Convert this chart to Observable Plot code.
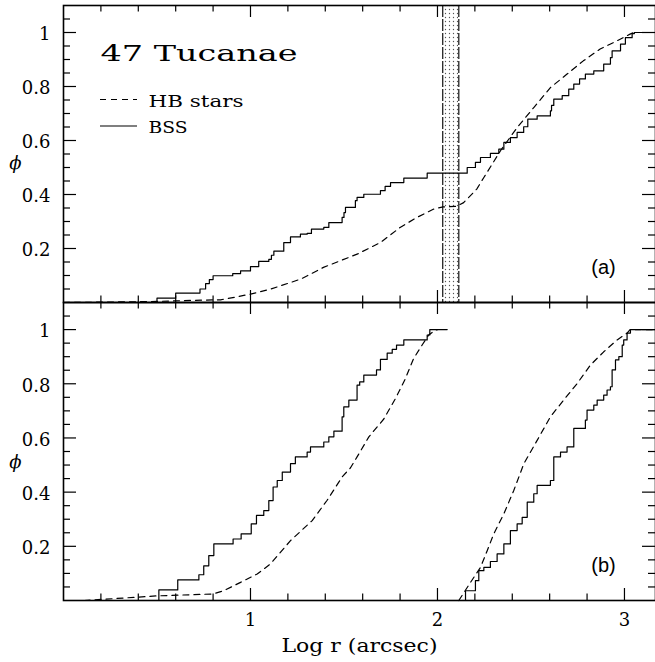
<!DOCTYPE html>
<html><head><meta charset="utf-8">
<script src="https://cdn.jsdelivr.net/npm/d3@7"></script>
<script src="https://cdn.jsdelivr.net/npm/@observablehq/plot@0.6"></script>
<style>
body{margin:0;background:#fff;}
#chart{width:655px;height:662px;position:relative;overflow:hidden;background:#fff;}
#chart svg{display:block;}
</style></head><body><div id="chart"></div>
<script>
// ---------- data (Log r [arcsec], cumulative fraction phi) ----------
// Panel (a)
const bssA = [[0,0],[0.50,0.016],[0.60,0.035],[0.73,0.05],[0.76,0.07],[0.78,0.085],[0.80,0.099],[0.905,0.107],[0.947,0.117],[1.0,0.133],[1.044,0.152],[1.098,0.16],[1.112,0.175],[1.125,0.19],[1.178,0.222],[1.214,0.243],[1.267,0.253],[1.303,0.256],[1.326,0.272],[1.392,0.278],[1.419,0.296],[1.49,0.315],[1.50,0.333],[1.508,0.352],[1.561,0.377],[1.57,0.389],[1.606,0.401],[1.695,0.414],[1.72,0.43],[1.749,0.444],[1.82,0.461],[1.945,0.479],[2.159,0.5],[2.203,0.519],[2.23,0.537],[2.283,0.552],[2.328,0.568],[2.355,0.593],[2.39,0.611],[2.426,0.63],[2.461,0.651],[2.483,0.679],[2.533,0.691],[2.604,0.71],[2.61,0.73],[2.622,0.753],[2.667,0.766],[2.702,0.79],[2.729,0.809],[2.76,0.828],[2.791,0.846],[2.836,0.858],[2.889,0.883],[2.925,0.907],[2.934,0.932],[2.979,0.957],[3.005,0.981],[3.041,0.996],[3.053,1.0],[3.166,1.0]];
const hbA = [[0,0],[0.3,0.002],[0.5,0.004],[0.7,0.008],[0.84,0.01],[0.92,0.02],[1.0,0.031],[1.11,0.05],[1.27,0.087],[1.39,0.13],[1.57,0.179],[1.695,0.222],[1.80,0.278],[1.89,0.315],[1.98,0.346],[2.03,0.354],[2.10,0.356],[2.14,0.37],[2.21,0.42],[2.248,0.463],[2.337,0.562],[2.426,0.648],[2.515,0.722],[2.604,0.796],[2.693,0.846],[2.78,0.895],[2.87,0.939],[2.96,0.969],[3.03,0.994],[3.05,1.0],[3.166,1.0]];
// Panel (b): inner and outer samples
const bssBInner = [[0,0],[0.51,0.039],[0.611,0.076],[0.724,0.095],[0.75,0.128],[0.777,0.166],[0.804,0.209],[0.907,0.227],[0.95,0.246],[1.004,0.283],[1.032,0.314],[1.071,0.332],[1.098,0.369],[1.121,0.419],[1.143,0.443],[1.17,0.474],[1.214,0.505],[1.24,0.53],[1.303,0.548],[1.321,0.567],[1.392,0.585],[1.419,0.604],[1.446,0.625],[1.49,0.678],[1.499,0.715],[1.526,0.74],[1.57,0.795],[1.584,0.807],[1.606,0.832],[1.674,0.851],[1.695,0.89],[1.731,0.913],[1.758,0.927],[1.781,0.943],[1.82,0.962],[1.945,0.98],[1.959,1.0],[2.052,1.0]];
const hbBInner = [[0.11,0],[0.5,0.017],[0.80,0.024],[0.857,0.036],[0.947,0.067],[1.036,0.098],[1.107,0.135],[1.16,0.178],[1.214,0.221],[1.33,0.295],[1.41,0.37],[1.49,0.456],[1.535,0.49],[1.57,0.53],[1.633,0.604],[1.713,0.67],[1.775,0.745],[1.825,0.814],[1.873,0.894],[1.918,0.943],[1.953,0.98],[1.985,0.996],[2.0,1.0]];
const bssBOuter = [[2.14,0],[2.15,0.036],[2.203,0.073],[2.221,0.11],[2.248,0.122],[2.283,0.144],[2.319,0.172],[2.355,0.209],[2.39,0.258],[2.426,0.283],[2.453,0.307],[2.48,0.363],[2.515,0.394],[2.533,0.425],[2.604,0.443],[2.622,0.53],[2.658,0.548],[2.693,0.567],[2.729,0.635],[2.791,0.666],[2.80,0.703],[2.836,0.721],[2.854,0.74],[2.889,0.758],[2.907,0.777],[2.925,0.789],[2.934,0.851],[2.952,0.888],[2.97,0.9],[2.988,0.943],[2.996,0.962],[3.014,0.987],[3.032,1.0],[3.166,1.0]];
const hbBOuter = [[2.114,0],[2.159,0.048],[2.194,0.085],[2.23,0.122],[2.266,0.184],[2.301,0.246],[2.355,0.32],[2.408,0.406],[2.462,0.505],[2.533,0.591],[2.604,0.678],[2.675,0.74],[2.747,0.801],[2.818,0.869],[2.889,0.918],[2.961,0.962],[3.014,0.987],[3.03,1.0],[3.166,1.0]];
// shaded band in panel (a)
const bandEdges = [2.028, 2.114];
// axes
const xDomain = [0, 3.166];
const yDomain = [0, 1.1];
const xMajorTicks = [1, 2, 3];
const xTickLabels = ["1", "2", "3"];
const xMinorTicks = [0.2,0.4,0.6,0.8,1.2,1.4,1.6,1.8,2.2,2.4,2.6,2.8];
const yMajorTicks = [0.2, 0.4, 0.6, 0.8, 1.0];
const yTickLabels = ["0.2", "0.4", "0.6", "0.8", "1"];
const yMinorTicks = [0.05,0.1,0.15,0.25,0.3,0.35,0.45,0.5,0.55,0.65,0.7,0.75,0.85,0.9,0.95,1.05];
const title = "47 Tucanae";
const legendLabels = ["HB stars", "BSS"];
const xTitle = "Log r (arcsec)";
const yTitle = "\u03D5";

// ---------- drawing ----------
const W = 655, ML = 63, MR = 0;
const FW = W - ML - MR;
const SERIF = "DejaVu Serif";
const rows = arr => arr.map(([logr, phi]) => ({logr, phi}));

function ticks(FH) {
  const MAJ_X = 12, MIN_X = 6.5, MAJ_Y = 13, MIN_Y = 7;
  const s = {stroke: "black", strokeWidth: 1.2};
  return [
    Plot.tickX(xMajorTicks, {x: d => d, insetTop: FH - MAJ_X, ...s}),
    Plot.tickX(xMajorTicks, {x: d => d, insetBottom: FH - MAJ_X, ...s}),
    Plot.tickX(xMinorTicks, {x: d => d, insetTop: FH - MIN_X, ...s}),
    Plot.tickX(xMinorTicks, {x: d => d, insetBottom: FH - MIN_X, ...s}),
    Plot.tickY(yMajorTicks, {y: d => d, insetRight: FW - MAJ_Y, ...s}),
    Plot.tickY(yMajorTicks, {y: d => d, insetLeft: FW - MAJ_Y, ...s}),
    Plot.tickY(yMinorTicks, {y: d => d, insetRight: FW - MIN_Y, ...s}),
    Plot.tickY(yMinorTicks, {y: d => d, insetLeft: FW - MIN_Y, ...s})
  ];
}

function panel({H, MT, MB, series, extra = [], tag, phiDy}) {
  const FH = H - MT - MB;
  const yLab = yMajorTicks.map((v, i) => ({v, label: yTickLabels[i]}));
  return Plot.plot({
    width: W, height: H, marginLeft: ML, marginRight: MR, marginTop: MT, marginBottom: MB,
    x: {domain: xDomain, axis: null},
    y: {domain: yDomain, axis: null},
    style: {fontFamily: SERIF, background: "white", overflow: "visible", color: "black"},
    marks: [
      ...extra,
      ...series.map(s => Plot.line(rows(s.data), {
        x: "logr", y: "phi", curve: s.curve, stroke: "black", strokeWidth: 1.2,
        strokeDasharray: s.dash
      })),
      ...ticks(FH),
      Plot.frame({stroke: "black", strokeWidth: 1.6}),
      Plot.text(yLab, {y: "v", text: "label", frameAnchor: "left", textAnchor: "end",
        lineAnchor: "middle", dx: -13, dy: 2, fontSize: 18, fontFamily: SERIF}),
      Plot.text([yTitle], {frameAnchor: "left", textAnchor: "middle", lineAnchor: "middle",
        dx: -48, dy: phiDy, fontSize: 18, fontStyle: "italic", fontFamily: SERIF}),
      Plot.text([tag], {frameAnchor: "bottom-right", textAnchor: "middle", lineAnchor: "bottom",
        dx: -52, dy: -29, fontSize: 20, fontFamily: "Liberation Sans"})
    ]
  });
}

const svgA = panel({
  H: 302, MT: 5, MB: 0, tag: "(a)", phiDy: 9,
  series: [
    {data: bssA, curve: "step-after"},
    {data: hbA, curve: "linear", dash: "6,5"}
  ],
  extra: [
    Plot.rect([{x1: bandEdges[0], x2: bandEdges[1]}], {x1: "x1", x2: "x2", fill: "url(#dots)"}),
    Plot.ruleX(bandEdges, {x: d => d, stroke: "#222", strokeWidth: 1.3, strokeDasharray: "12,2"}),
    Plot.text([title], {frameAnchor: "top-left", textAnchor: "start", lineAnchor: "bottom",
      dx: 37, dy: 55, fontSize: 23, fontFamily: SERIF}),
    Plot.text([legendLabels[0]], {frameAnchor: "top-left", textAnchor: "start", lineAnchor: "bottom",
      dx: 85, dy: 101, fontSize: 17, fontFamily: SERIF}),
    Plot.text([legendLabels[1]], {frameAnchor: "top-left", textAnchor: "start", lineAnchor: "bottom",
      dx: 85, dy: 127.5, fontSize: 17, fontFamily: SERIF})
  ]
});

const svgB = panel({
  H: 360, MT: 0, MB: 62, tag: "(b)", phiDy: 11,
  series: [
    {data: bssBInner, curve: "step-after"},
    {data: hbBInner, curve: "linear", dash: "6,5"},
    {data: bssBOuter, curve: "step-after"},
    {data: hbBOuter, curve: "linear", dash: "6,5"}
  ],
  extra: [
    Plot.text(xMajorTicks.map((v, i) => ({v, label: xTickLabels[i]})), {x: "v", text: "label",
      frameAnchor: "bottom", lineAnchor: "bottom", dy: 25, fontSize: 18, fontFamily: SERIF}),
    Plot.text([xTitle], {frameAnchor: "bottom", lineAnchor: "bottom", dy: 51, fontSize: 19, fontFamily: SERIF})
  ]
});

// dotted fill pattern for the band
d3.select(svgA).insert("defs", ":first-child").html(
  '<pattern id="dots" width="4" height="4" patternUnits="userSpaceOnUse">' +
  '<rect width="4" height="4" fill="white"/>' +
  '<circle cx="1.5" cy="1.5" r="0.65" fill="#555"/></pattern>');

// legend swatches
const lg = d3.select(svgA).append("g").attr("stroke", "black").attr("stroke-width", 1.2);
lg.append("line").attr("x1", ML + 37).attr("x2", ML + 74).attr("y1", 99.5).attr("y2", 99.5).attr("stroke-dasharray", "6,5");
lg.append("line").attr("x1", ML + 37).attr("x2", ML + 74).attr("y1", 126).attr("y2", 126);

// widen Hershey-like text
const stretch = {"47 Tucanae": 197, "HB stars": 95, "BSS": 39, "Log r (arcsec)": 156};
for (const svg of [svgA, svgB]) {
  d3.select(svg).selectAll("text").each(function () {
    const L = stretch[this.textContent];
    if (L) d3.select(this).attr("textLength", L).attr("lengthAdjust", "spacingAndGlyphs");
  });
}

const chart = document.getElementById("chart");
chart.appendChild(svgA);
chart.appendChild(svgB);
</script>
</body></html>
